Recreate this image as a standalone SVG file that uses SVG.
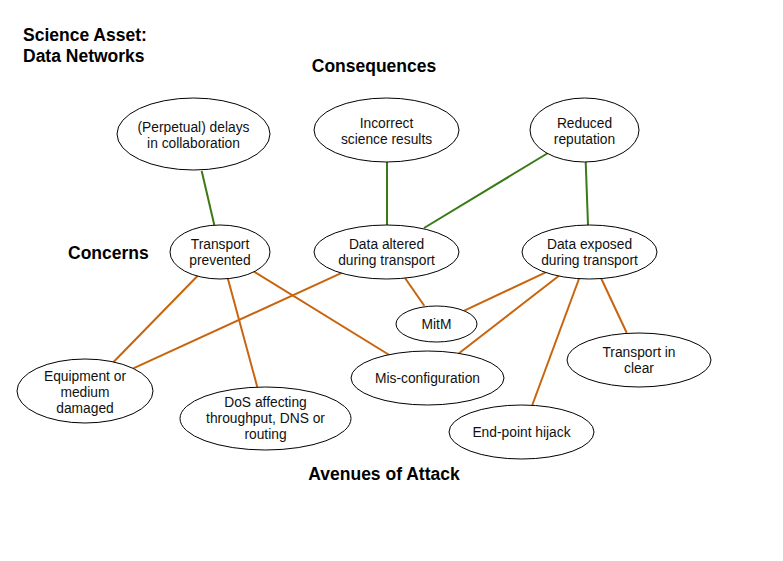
<svg xmlns="http://www.w3.org/2000/svg" width="783" height="561" viewBox="0 0 783 561">
<style>
.n ellipse{fill:#fff;stroke:#000;stroke-width:1}
.n text{font-family:"Liberation Sans",Arial,sans-serif;font-size:13.8px;fill:#111;text-anchor:middle}
.h{font-family:"Liberation Sans",Arial,sans-serif;font-size:17.5px;font-weight:bold;fill:#000}
.g{stroke:#3a7a16;stroke-width:2;fill:none}
.o{stroke:#c8640c;stroke-width:2;fill:none}
</style>
<rect width="783" height="561" fill="#fff"/>
<g id="titles">
<text class="h" x="23" y="41">Science Asset:</text>
<text class="h" x="23" y="62">Data Networks</text>
<text class="h" x="374" y="72" text-anchor="middle">Consequences</text>
<text class="h" x="68" y="259">Concerns</text>
<text class="h" x="384" y="480" text-anchor="middle">Avenues of Attack</text>
</g>
<g id="connectors">
<line class="g" x1="201.7" y1="171" x2="214.3" y2="225"/>
<line class="g" x1="387" y1="162" x2="387" y2="225"/>
<line class="g" x1="548" y1="153" x2="424" y2="228"/>
<line class="g" x1="585.7" y1="162" x2="588" y2="225"/>
<line class="o" x1="197.7" y1="275.7" x2="113.3" y2="362.3"/>
<line class="o" x1="227.7" y1="278" x2="257.3" y2="387"/>
<line class="o" x1="254" y1="271.7" x2="389.3" y2="355"/>
<line class="o" x1="342.3" y1="272.7" x2="133.3" y2="368.3"/>
<line class="o" x1="405" y1="278" x2="424.3" y2="305.7"/>
<line class="o" x1="545.7" y1="272.3" x2="464.3" y2="310.7"/>
<line class="o" x1="559" y1="275.7" x2="459" y2="353.3"/>
<line class="o" x1="579.3" y1="278" x2="532.3" y2="405"/>
<line class="o" x1="601" y1="278" x2="626.7" y2="332.7"/>
</g>
<g id="perpetual-delays" class="n"><ellipse cx="193.5" cy="134" rx="76.5" ry="36"/><text x="193.5" y="132">(Perpetual) delays</text><text x="193.5" y="148">in collaboration</text></g>
<g id="incorrect-results" class="n"><ellipse cx="386.5" cy="130" rx="72.5" ry="32"/><text x="386.5" y="128">Incorrect</text><text x="386.5" y="144">science results</text></g>
<g id="reduced-reputation" class="n"><ellipse cx="584.5" cy="130" rx="54.5" ry="32"/><text x="584.5" y="128">Reduced</text><text x="584.5" y="144">reputation</text></g>
<g id="transport-prevented" class="n"><ellipse cx="220" cy="252" rx="50" ry="27"/><text x="220" y="249">Transport</text><text x="220" y="265">prevented</text></g>
<g id="data-altered" class="n"><ellipse cx="386.5" cy="252" rx="72.5" ry="27"/><text x="386.5" y="249">Data altered</text><text x="386.5" y="265">during transport</text></g>
<g id="data-exposed" class="n"><ellipse cx="589.5" cy="252" rx="67.5" ry="27"/><text x="589.5" y="249">Data exposed</text><text x="589.5" y="265">during transport</text></g>
<g id="mitm" class="n"><ellipse cx="436.5" cy="324" rx="40.5" ry="18"/><text x="436.5" y="329">MitM</text></g>
<g id="mis-configuration" class="n"><ellipse cx="427.5" cy="378" rx="76.5" ry="27"/><text x="427.5" y="383">Mis-configuration</text></g>
<g id="transport-in-clear" class="n"><ellipse cx="639" cy="360" rx="72" ry="27"/><text x="639" y="357">Transport in</text><text x="639" y="373">clear</text></g>
<g id="end-point-hijack" class="n"><ellipse cx="521.5" cy="432" rx="72.5" ry="27"/><text x="521.5" y="437">End-point hijack</text></g>
<g id="equipment-damaged" class="n"><ellipse cx="85" cy="391" rx="68" ry="32"/><text x="85" y="381">Equipment or</text><text x="85" y="397">medium</text><text x="85" y="413">damaged</text></g>
<g id="dos" class="n"><ellipse cx="265.5" cy="418.5" rx="85.5" ry="31.5"/><text x="265.5" y="407">DoS affecting</text><text x="265.5" y="423">throughput, DNS or</text><text x="265.5" y="439">routing</text></g>
</svg>
